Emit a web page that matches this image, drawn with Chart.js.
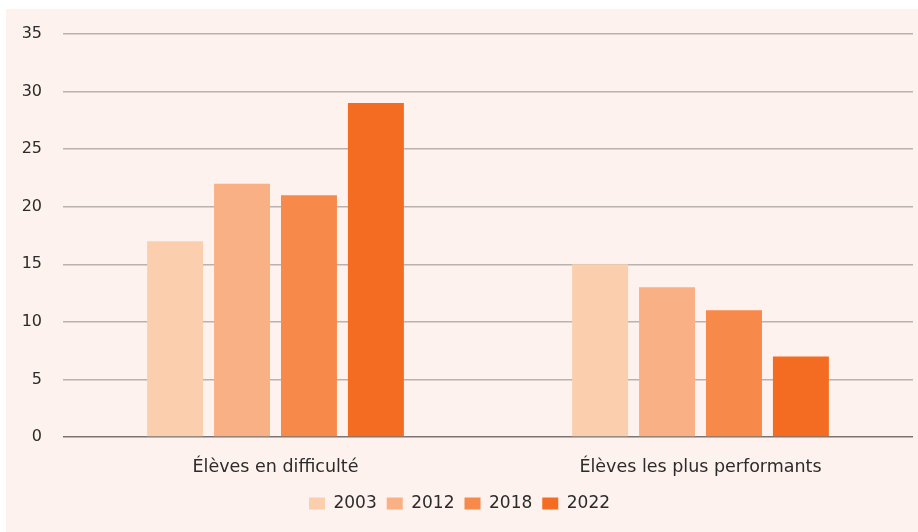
<!DOCTYPE html>
<html>
<head>
<meta charset="utf-8">
<script src="https://cdn.jsdelivr.net/npm/chart.js@4.4.1/dist/chart.umd.min.js"></script>
<style>
  html, body { margin: 0; padding: 0; background: #ffffff; }
  #panel { position: absolute; left: 6px; top: 9px; width: 912px; height: 523px; background: #fdf2ed; }
  #chart { display: block; }
</style>
</head>
<body>
<div id="panel"><canvas id="chart" width="912" height="523"></canvas></div>
<script>
// categories and series
var categories = ["Élèves en difficulté", "Élèves les plus performants"];
var years = ["2003", "2012", "2018", "2022"];
var v2003 = [17, 15];
var v2012 = [22, 13];
var v2018 = [21, 11];
var v2022 = [29, 7];
var yTicks = [0, 5, 10, 15, 20, 25, 30, 35];

var colors = ['#fbcfae', '#f9b085', '#f7894a', '#f36c22'];
var series = [v2003, v2012, v2018, v2022];

var datasets = [];
for (var i = 0; i < years.length; i++) {
    datasets.push({
        label: years[i],
        data: series[i],
        backgroundColor: colors[i],
        borderWidth: 0,
        barPercentage: 0.836,
        categoryPercentage: 0.63
    });
}

var txt = '#2b2b2b';
var fam = 'DejaVu Sans';
var ctx = document.getElementById("chart").getContext('2d');
var myChart = new Chart(ctx, {
    type: 'bar',
    data: { labels: categories, datasets: datasets },
    options: {
        responsive: false,
        animation: false,
        layout: { padding: { top: 25, right: 5, bottom: 10, left: 0 } },
        plugins: {
            tooltip: { enabled: false },
            legend: {
                position: 'bottom',
                labels: {
                    boxWidth: 16,
                    boxHeight: 12,
                    padding: 10,
                    color: txt,
                    font: { family: fam, size: 17 }
                }
            }
        },
        scales: {
            x: {
                grid: { display: false },
                border: { display: false },
                afterFit: function (axis) { axis.height = 48; },
                ticks: { color: txt, padding: 12, font: { family: fam, size: 17.5 } }
            },
            y: {
                min: 0,
                max: 35,
                afterBuildTicks: function (axis) {
                    axis.ticks = yTicks.map(function (v) { return { value: v }; });
                },
                afterFit: function (axis) { axis.width = 57; },
                border: { display: false },
                grid: {
                    drawTicks: true,
                    tickLength: 21,
                    tickColor: 'rgba(0,0,0,0)',
                    lineWidth: 1.5,
                    color: function (c) { return c.tick && c.tick.value === 0 ? '#7a7573' : '#b9b2af'; }
                },
                ticks: { color: txt, padding: 0, font: { family: fam, size: 16 } }
            }
        }
    }
});
</script>
</body>
</html>
